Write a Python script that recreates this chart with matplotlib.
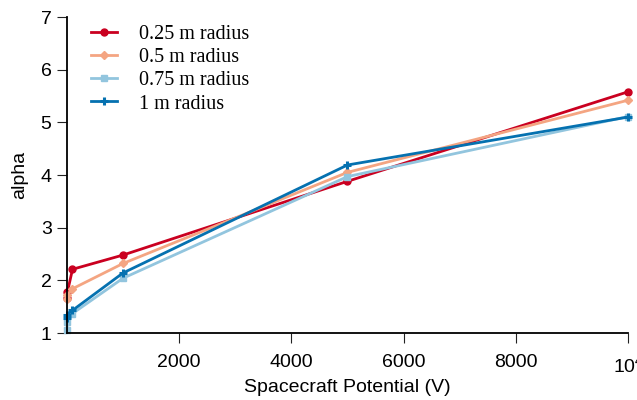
import matplotlib
matplotlib.use("Agg")
import matplotlib.pyplot as plt

potential = [1, 10, 100, 1000, 5000, 10000]
r025 = [1.66, 1.78, 2.21, 2.48, 3.88, 5.58]
r050 = [1.65, 1.72, 1.84, 2.32, 4.05, 5.42]
r075 = [1.06, 1.2, 1.37, 2.04, 3.97, 5.11]
r100 = [1.28, 1.35, 1.43, 2.14, 4.19, 5.10]

series = [
    ("0.25 m radius", r025, "#ca0020", "o", 5, 1),
    ("0.5 m radius", r050, "#f4a582", "D", 4.5, 1),
    ("0.75 m radius", r075, "#92c5de", "s", 5, 1),
    ("1 m radius", r100, "#0571b0", "+", 6, 2.2),
]

plt.rcParams['font.family'] = ['Liberation Sans', 'DejaVu Sans']
plt.rcParams['mathtext.fontset'] = 'custom'
plt.rcParams['mathtext.rm'] = 'Liberation Sans'
plt.rcParams['mathtext.it'] = 'Liberation Sans:italic'
fig = plt.figure(figsize=(6.37, 4.0), dpi=100)
ax = fig.add_axes([0.105, 0.1675, 0.881, 0.79])

for label, vals, color, mk, ms, mew in series:
    ax.plot(potential, vals, color=color, marker=mk, markersize=ms,
            markeredgewidth=mew, linewidth=2, label=label, clip_on=False)

ax.set_xlim(0, 10000)
ax.set_ylim(1, 7)
ax.set_xticks([2000, 4000, 6000, 8000, 10000])
ax.set_xticklabels(["2000", "4000", "6000", "8000", "$\\mathregular{10^4}$"])
ax.set_yticks([1, 2, 3, 4, 5, 6, 7])
ax.spines['top'].set_visible(False)
ax.spines['right'].set_visible(False)
ax.spines['left'].set_linewidth(1.3)
ax.spines['bottom'].set_linewidth(1.3)
ax.tick_params(axis='x', direction='out', length=7, width=0.8, pad=8, labelsize=14, color='#222222')
ax.tick_params(axis='y', direction='out', length=7, width=0.8, pad=4, labelsize=14, color='#222222')
ax.set_xlabel("Spacecraft Potential (V)", fontsize=14, labelpad=2)
ax.set_ylabel("alpha", fontsize=14, labelpad=9)

leg = ax.legend(loc='upper left', frameon=False, prop={'family': 'Liberation Serif', 'size': 14.5},
                handlelength=1.3, handletextpad=1.1, labelspacing=0.2,
                borderaxespad=0.0, bbox_to_anchor=(0.028, 1.0))

fig.savefig("out.png", dpi=100)
